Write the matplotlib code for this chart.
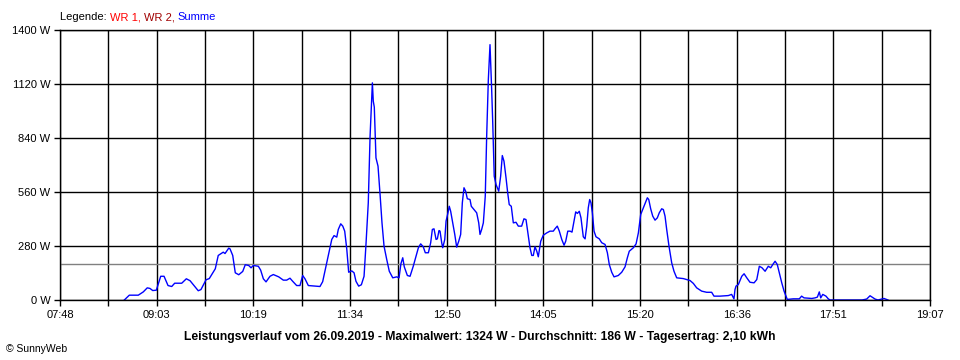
import matplotlib
matplotlib.use("Agg")
import matplotlib.pyplot as plt
import numpy as np

# Leistung (Summe) - time in minutes since midnight, power in W
minutes = [
    518.2, 522.1, 529.1, 533.0, 536.1, 538.2, 540.4, 543.2, 545.0, 546.6,
    549.2, 552.3, 555.2, 557.5, 563.0, 566.6, 569.5, 573.4, 575.9, 578.0,
    582.0, 584.5, 589.2, 591.5, 595.4, 596.8, 599.7, 600.7, 602.8, 604.8,
    607.5, 610.6, 612.6, 615.3, 617.1, 618.9, 622.8, 624.6, 626.7, 628.8,
    631.9, 634.5, 638.7, 642.3, 644.9, 647.5, 649.6, 652.7, 655.3, 657.4,
    659.2, 661.8, 670.9, 673.0, 676.2, 680.1, 681.9, 684.0, 685.2, 687.1,
    688.7, 690.2, 691.8, 693.3, 695.7, 697.5, 699.0, 701.1, 703.2, 705.3,
    706.8, 708.6, 710.0, 711.0, 711.8, 712.5, 713.3, 714.6, 716.2, 717.8,
    719.3, 720.9, 723.0, 725.0, 727.7, 730.8, 732.6, 734.1, 735.5, 736.7,
    739.1, 741.2, 743.7, 747.7, 749.5, 751.5, 753.1, 755.5, 757.3, 758.6,
    759.9, 761.5, 762.5, 763.8, 764.6, 765.9, 766.7, 768.3, 769.3, 770.8,
    771.8, 772.9, 774.5, 776.1, 777.6, 779.2, 780.7, 782.0, 783.3, 784.6,
    785.9, 788.0, 789.0, 790.6, 793.2, 794.8, 795.8, 797.1, 798.4, 799.9,
    801.0, 802.3, 803.6, 804.9, 805.7, 806.9, 808.3, 810.4, 811.9, 813.2,
    814.5, 816.1, 817.4, 818.6, 820.2, 821.8, 823.9, 825.7, 828.3, 830.1,
    831.7, 833.3, 834.8, 836.2, 837.4, 838.7, 840.1, 841.3, 843.2, 845.2,
    847.9, 850.4, 853.0, 854.3, 856.1, 857.7, 859.6, 861.4, 862.7, 864.3,
    866.1, 867.6, 869.2, 870.5, 871.8, 873.3, 874.6, 876.4, 877.8, 879.1,
    880.3, 881.4, 882.4, 883.5, 884.8, 886.3, 888.9, 890.8, 893.4, 895.2,
    896.7, 898.6, 900.4, 903.7, 906.4, 909.0, 910.8, 912.3, 915.5, 917.6,
    919.4, 921.2, 923.3, 924.8, 926.4, 927.5, 929.0, 930.6, 932.4, 934.2,
    935.7, 937.6, 938.9, 940.2, 941.5, 943.3, 945.4, 947.2, 949.3, 954.5,
    957.1, 959.7, 962.3, 964.9, 968.8, 972.7, 976.6, 978.4, 983.1, 989.6,
    992.2, 994.0, 994.8, 995.6, 997.4, 1000.1, 1001.9, 1004.0, 1006.5, 1009.7,
    1011.8, 1013.8, 1015.9, 1018.3, 1020.8, 1022.7, 1024.3, 1026.1, 1027.8, 1029.4,
    1031.3, 1033.1, 1034.6, 1035.6, 1040.3, 1045.0, 1046.8, 1048.7, 1054.7, 1057.3,
    1059.1, 1060.6, 1061.7, 1063.3, 1065.8, 1067.6, 1069.0, 1094.0, 1097.6, 1100.2,
    1104.1, 1106.4, 1111.1, 1114.2,
]
watts = [
    0, 25, 25, 42, 63, 60, 49, 51, 89, 123,
    123, 75, 70, 87, 87, 110, 100, 68, 48, 54,
    105, 111, 162, 231, 248, 241, 269, 265, 231, 141,
    131, 148, 183, 179, 167, 179, 175, 155, 110, 94,
    123, 132, 120, 103, 103, 113, 97, 75, 75, 127,
    110, 75, 70, 95, 193, 314, 334, 326, 366, 395,
    383, 357, 265, 144, 151, 141, 97, 72, 79, 123,
    288, 504, 849, 1005, 1126, 1031, 1000, 737, 694, 547,
    400, 279, 210, 149, 115, 120, 115, 189, 219, 172,
    127, 123, 175, 271, 291, 276, 245, 245, 297, 366,
    369, 314, 317, 360, 357, 297, 271, 314, 409, 452,
    486, 460, 400, 340, 274, 305, 340, 504, 582, 564,
    525, 521, 486, 473, 452, 400, 340, 366, 400, 538,
    849, 1143, 1324, 1091, 927, 642, 599, 564, 642, 749,
    720, 634, 556, 495, 486, 400, 403, 383, 383, 421,
    417, 340, 271, 231, 231, 276, 253, 224, 305, 336,
    348, 357, 357, 369, 383, 357, 314, 284, 305, 357,
    357, 352, 409, 457, 449, 460, 426, 328, 317, 383,
    478, 521, 504, 452, 357, 328, 317, 297, 288, 245,
    184, 144, 120, 127, 144, 172, 219, 253, 271, 291,
    348, 443, 478, 504, 530, 521, 473, 435, 414, 426,
    452, 473, 469, 435, 366, 279, 193, 149, 115, 111,
    106, 101, 86, 63, 46, 40, 40, 20, 20, 23,
    29, 6, 54, 72, 80, 123, 136, 115, 92, 89,
    106, 175, 167, 149, 175, 167, 184, 201, 184, 141,
    89, 46, 20, 3, 6, 6, 20, 11, 8, 11,
    15, 42, 11, 29, 20, 6, 0, 0, 5, 22,
    5, 0, 8, 0,
]
average_w = 186

x_start, x_end = 468, 1147
tick_labels = ["07:48", "09:03", "10:19", "11:34", "12:50",
               "14:05", "15:20", "16:36", "17:51", "19:07"]
y_ticks = [0, 280, 560, 840, 1120, 1400]

plt.rcParams["font.family"] = ["Liberation Sans", "DejaVu Sans"]

fig = plt.figure(figsize=(9.6, 3.6), dpi=100)
ax = fig.add_axes([60 / 960, 60 / 360, 870 / 960, 270 / 360])

major = np.linspace(x_start, x_end, len(tick_labels))
minor = (major[:-1] + major[1:]) / 2

ax.plot(minutes, watts, color="#0000ff", lw=1.0, zorder=3)
ax.axhline(average_w, color="#808080", lw=1.0, zorder=2)

ax.set_xlim(x_start, x_end)
ax.set_ylim(0, 1400)
ax.set_xticks(major)
ax.set_xticklabels(tick_labels)
ax.set_xticks(minor, minor=True)
ax.set_yticks(y_ticks)
ax.set_yticklabels([f"{v} W" for v in y_ticks])

# grid lines
for xv in np.concatenate([major, minor]):
    ax.axvline(xv, color="black", lw=1.0, zorder=1)
for yv in y_ticks:
    ax.axhline(yv, color="black", lw=1.0, zorder=1)

for s in ax.spines.values():
    s.set_color("black")
    s.set_linewidth(1.0)
    s.set_zorder(4)

ax.tick_params(axis="both", which="both", direction="out", length=4,
               width=1.0, color="black", labelsize=8, pad=3)

# legend line at the top, coloured pieces of text
fig.canvas.draw()
r = fig.canvas.get_renderer()
xpos = 60
for txt, col in [("Legende: ", "black"), ("WR 1, ", "#ff0000"),
                 ("WR 2, ", "#a00000"), ("Summe", "#0000ff")]:
    tt = fig.text(xpos / 960, 1 - 17 / 360, txt, fontsize=8, va="center",
                  ha="left", color=col)
    xpos = tt.get_window_extent(r).x1

fig.text(480 / 960, 1 - 337 / 360,
         "Leistungsverlauf vom 26.09.2019 - Maximalwert: 1324 W - "
         "Durchschnitt: 186 W - Tagesertrag: 2,10 kWh",
         fontsize=8.7, fontweight="bold", ha="center", va="center")
fig.text(6 / 960, 1 - 349 / 360, "© SunnyWeb", fontsize=7.5,
         ha="left", va="center")

fig.savefig("out.png", dpi=100, facecolor="white")
